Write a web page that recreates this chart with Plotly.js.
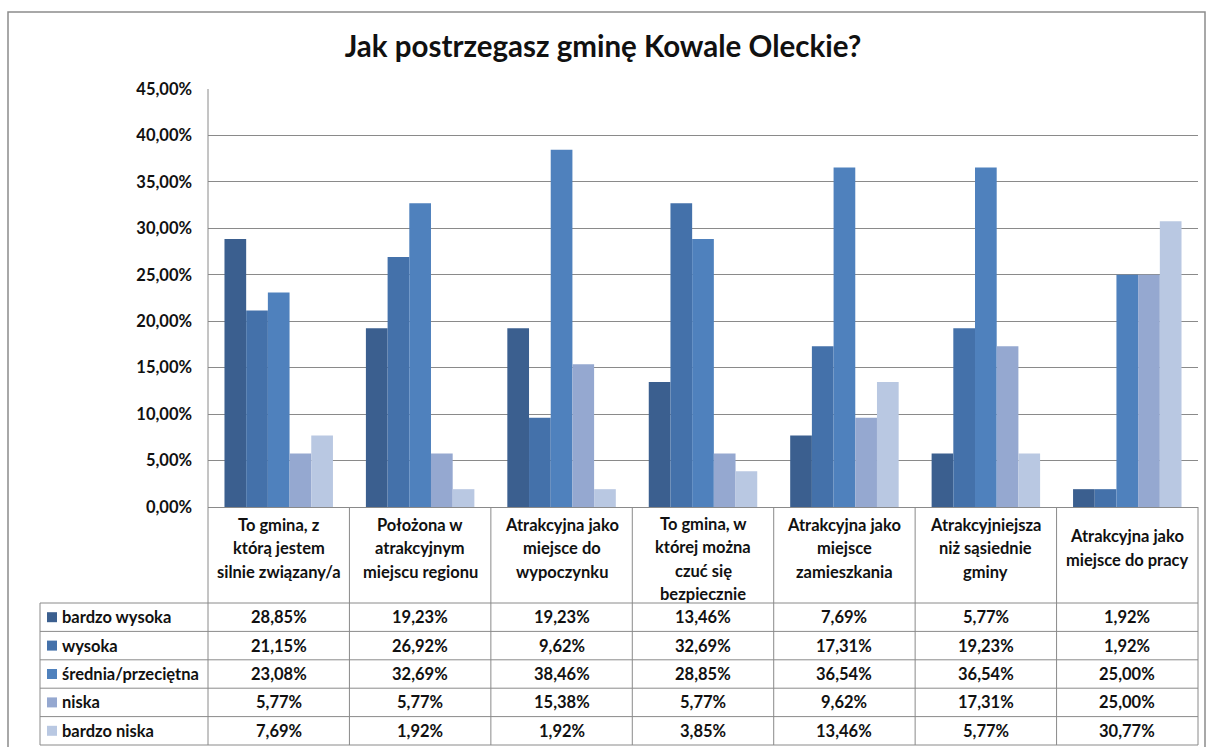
<!DOCTYPE html>
<html>
<head>
<meta charset="utf-8">
<script src="https://cdn.plot.ly/plotly-3.0.1.min.js"></script>
<style>html,body{margin:0;padding:0;background:#fff;}#chart{width:1206px;height:747px;}</style>
</head>
<body>
<div id="chart"></div>
<script>
const title = 'Jak postrzegasz gminę Kowale Oleckie?';
const categories = [
  'To gmina, z<br>którą jestem<br>silnie związany/a',
  'Położona w<br>atrakcyjnym<br>miejscu regionu',
  'Atrakcyjna jako<br>miejsce do<br>wypoczynku',
  'To gmina, w<br>której można<br>czuć się<br>bezpiecznie',
  'Atrakcyjna jako<br>miejsce<br>zamieszkania',
  'Atrakcyjniejsza<br>niż sąsiednie<br>gminy',
  'Atrakcyjna jako<br>miejsce do pracy'
];
const seriesNames = ['bardzo wysoka', 'wysoka', 'średnia/przeciętna', 'niska', 'bardzo niska'];
const bardzoWysoka = [28.85, 19.23, 19.23, 13.46, 7.69, 5.77, 1.92];
const wysoka       = [21.15, 26.92, 9.62, 32.69, 17.31, 19.23, 1.92];
const srednia      = [23.08, 32.69, 38.46, 28.85, 36.54, 36.54, 25.00];
const niska        = [5.77, 5.77, 15.38, 5.77, 9.62, 17.31, 25.00];
const bardzoNiska  = [7.69, 1.92, 1.92, 3.85, 13.46, 5.77, 30.77];
const seriesValues = [bardzoWysoka, wysoka, srednia, niska, bardzoNiska];
const colors = ['#3B5F8F', '#4471AA', '#4F81BD', '#95A8D0', '#B9C8E2'];

const W = 1206, H = 747;
const px = x => x / W;
const py = y => 1 - y / H;
const FONT = 'Lato, "Open Sans", sans-serif';
const GRID = '#8a8a8a';
const FS = 16.5;

// table geometry (pixels)
const plotL = 208, plotR = 1198, plotT = 89, plotB = 507;
const headerB = 603, rowH = 28.4, tableL = 40, headLineH = 23.5;

const fmt = v => v.toFixed(2).replace('.', ',') + '%';

const traces = seriesNames.map((n, i) => ({
  type: 'bar', name: n, x: categories.map((c, k) => k), y: seriesValues[i],
  marker: {color: colors[i], line: {width: 0}}, hoverinfo: 'skip'
}));

const shapes = [];
const annotations = [];
// outer frame
shapes.push({type: 'rect', xref: 'paper', yref: 'paper', x0: px(8), x1: px(1205), y0: py(760), y1: py(12), line: {color: '#8c8c8c', width: 1.5}});
// y axis line through table
shapes.push({type: 'line', xref: 'paper', yref: 'paper', x0: px(plotL), x1: px(plotL), y0: py(plotT), y1: py(H - 2), line: {color: GRID, width: 1}});
// right table border
shapes.push({type: 'line', xref: 'paper', yref: 'paper', x0: px(plotR), x1: px(plotR), y0: py(plotB), y1: py(H - 2), line: {color: GRID, width: 1}});
// column separators
for (let k = 0; k < categories.length - 1; k++) {
  shapes.push({type: 'line', xref: 'x', yref: 'paper', x0: k + 0.5, x1: k + 0.5, y0: py(plotB), y1: py(H - 2), line: {color: GRID, width: 1}});
}
// row lines
for (let r = 0; r <= seriesNames.length; r++) {
  const y = headerB + r * rowH;
  shapes.push({type: 'line', xref: 'paper', yref: 'paper', x0: px(tableL), x1: px(plotR), y0: py(y), y1: py(y), line: {color: GRID, width: 1}});
}
// legend column left border
shapes.push({type: 'line', xref: 'paper', yref: 'paper', x0: px(tableL), x1: px(tableL), y0: py(headerB), y1: py(headerB + seriesNames.length * rowH), line: {color: GRID, width: 1}});

// header labels (one annotation per line for Excel-like line spacing)
categories.forEach((c, k) => {
  const lines = c.split('<br>');
  const n = lines.length;
  const center = n >= 4 ? 559 : 548;
  lines.forEach((ln, j) => {
    annotations.push({xref: 'x', yref: 'paper', x: k, y: py(center + (j - (n - 1) / 2) * headLineH), text: ln, showarrow: false,
      xanchor: 'center', yanchor: 'middle', align: 'center',
      font: {family: FONT, size: FS, color: '#111', weight: 'bold'}});
  });
});
// rows
seriesNames.forEach((n, i) => {
  const yc = headerB + (i + 0.5) * rowH;
  shapes.push({type: 'rect', xref: 'paper', yref: 'paper', x0: px(47), x1: px(57), y0: py(yc + 5), y1: py(yc - 5), fillcolor: colors[i], line: {width: 0}});
  annotations.push({xref: 'paper', yref: 'paper', x: px(60), y: py(yc), text: n, showarrow: false,
    xanchor: 'left', yanchor: 'middle', font: {family: FONT, size: FS, color: '#111', weight: 'bold'}});
  seriesValues[i].forEach((v, k) => {
    annotations.push({xref: 'x', yref: 'paper', x: k, y: py(yc), text: fmt(v), showarrow: false,
      xanchor: 'center', yanchor: 'middle', font: {family: FONT, size: FS, color: '#111', weight: 'bold'}});
  });
});

const layout = {
  width: W, height: H,
  margin: {l: 0, r: 0, t: 0, b: 0},
  paper_bgcolor: '#fff', plot_bgcolor: '#fff',
  separators: ', ',
  title: {text: title, x: 0.5, xanchor: 'center', y: py(47), yanchor: 'middle', yref: 'paper',
    font: {family: FONT, size: 29.5, color: '#111', weight: 'bold'}},
  showlegend: false,
  barmode: 'group', bargap: 0.233, bargroupgap: 0,
  xaxis: {domain: [px(plotL), px(plotR)], type: 'category', range: [-0.5, 6.5],
    showticklabels: false, showgrid: false, zeroline: false, showline: true, linecolor: GRID, linewidth: 1, ticks: ''},
  yaxis: {domain: [py(plotB), py(plotT)], range: [0, 45], dtick: 5, tick0: 0,
    tickformat: '.2f', ticksuffix: '%', showgrid: true, gridcolor: GRID, gridwidth: 1,
    zeroline: false, showline: false, ticks: '', ticklabelstandoff: 15,
    tickfont: {family: FONT, size: FS, color: '#111', weight: 'bold'}},
  shapes: shapes, annotations: annotations
};

Plotly.newPlot('chart', traces, layout, {displayModeBar: false, staticPlot: true});
</script>
</body>
</html>
